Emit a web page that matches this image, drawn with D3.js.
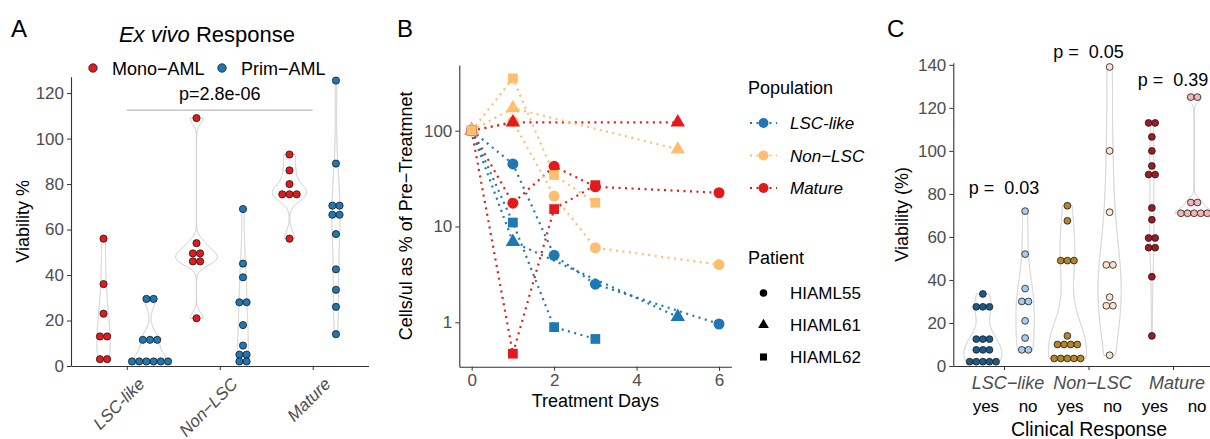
<!DOCTYPE html>
<html>
<head>
<meta charset="utf-8">
<script src="https://cdn.jsdelivr.net/npm/d3@7"></script>
<style>
body { margin: 0; background: #fff; }
svg { display: block; font-family: "Liberation Sans", Arial, Helvetica, sans-serif; }
</style>
</head>
<body>
<div id="chart"></div>
<script>
// ---------- data: panel A (ex vivo viability %) ----------
var aCategories = ["LSC-like", "Non−LSC", "Mature"];
var aSubtypes = ["Mono−AML", "Prim−AML"];
var aColors = ["#e31a1c", "#1f78b4"];
var aMono = [
	[56, 36, 23, 13, 13, 3, 3],
	[109, 54, 49.5, 49.5, 46, 46, 21],
	[93, 86, 80, 75.5, 75.5, 75.5, 56]
];
var aPrim = [
	[29.5, 29.5, 11.5, 11.5, 11.5, 2, 2, 2, 2, 2, 2],
	[69, 45, 39, 28, 28, 18, 9, 5, 5, 2, 2],
	[125.5, 89, 70.5, 70.5, 66.5, 66.5, 58, 42.5, 33.5, 26, 14]
];
var aTicks = [0, 20, 40, 60, 80, 100, 120];
var aPvalue = "p=2.8e-06";

// ---------- data: panel B (cells/ul as % of pre-treatment, [day, value]) ----------
var bPopulations = ["LSC-like", "Non−LSC", "Mature"];
var bColors = ["#1f78b4", "#fdbf6f", "#e31a1c"];
var bPatients = ["HIAML55", "HIAML61", "HIAML62"];
var lscHiaml55 = [[0, 100], [1, 45], [2, 5.0], [3, 2.5], [6, 0.96]];
var nonHiaml55 = [[0, 100], [1, 125], [2, 20.8], [3, 6.0], [6, 4.0]];
var matHiaml55 = [[0, 100], [1, 17.5], [2, 42.5], [3, 26], [6, 22.5]];
var lscHiaml61 = [[0, 100], [1, 6.9], [5, 1.14]];
var nonHiaml61 = [[0, 100], [1, 172], [5, 64]];
var matHiaml61 = [[0, 100], [1, 122], [5, 122]];
var lscHiaml62 = [[0, 100], [1, 11], [2, 0.89], [3, 0.67]];
var nonHiaml62 = [[0, 100], [1, 352], [2, 34.5], [3, 17.7]];
var matHiaml62 = [[0, 100], [1, 0.47], [2, 15.2], [3, 27]];
var bXTicks = [0, 2, 4, 6];
var bYTicks = [1, 10, 100];

// ---------- data: panel C (viability % by clinical response) ----------
var cCategories = ["LSC−like", "Non−LSC", "Mature"];
var cResponses = ["yes", "no"];
var cColorsYes = ["#1a5b8a", "#b5852c", "#9e1b21"];
var cColorsNo = ["#a4cdee", "#fde2cc", "#f6b4b6"];
var cLscYes = [33.5, 27.5, 27.5, 27.5, 12.5, 12.5, 12.5, 7.5, 7.5, 7.5, 2, 2, 2, 2, 2];
var cLscNo = [72, 52, 36, 30, 30, 21, 13, 7.5, 7.5];
var cNonYes = [74.5, 67.5, 49, 49, 49, 14, 10, 10, 10, 10, 3.5, 3.5, 3.5, 3.5, 3.5];
var cNonNo = [139, 100, 71.5, 47, 47, 32, 28, 28, 5];
var cMatYes = [113, 113, 106.5, 100, 93, 89, 89, 73.5, 68, 59.5, 59.5, 55, 55, 41.5, 14];
var cMatNo = [125, 125, 76, 76, 71, 71, 71, 71, 71];
var cPvalues = ["0.03", "0.05", "0.39"];
var cPLabelAt = [80, 143, 130];
var cTicks = [0, 20, 40, 60, 80, 100, 120, 140];

var FONT = '"Liberation Sans", Arial, Helvetica, sans-serif';
var svg = d3.select("#chart").append("svg").attr("width", 1210).attr("height", 439);
svg.append("rect").attr("width", 1210).attr("height", 439).attr("fill", "#fff");

// gaussian kde with R's nrd0 bandwidth, trimmed to the data range
function kde(values, n) {
	var s = values.slice().sort(d3.ascending);
	var sd = d3.deviation(s);
	var iqr = (d3.quantile(s, 0.75) - d3.quantile(s, 0.25)) / 1.34;
	var lo = Math.min(sd, iqr);
	if (!(lo > 0)) lo = sd || Math.abs(s[0]) || 1;
	var bw = 0.9 * lo * Math.pow(s.length, -0.2);
	var mn = s[0], mx = s[s.length - 1];
	return d3.range(n).map(function(i) {
		var y = mn + (mx - mn) * i / (n - 1);
		var d = d3.sum(s, function(v) { return Math.exp(-0.5 * Math.pow((y - v) / bw, 2)); });
		return {y: y, d: d / (s.length * bw * Math.sqrt(2 * Math.PI))};
	});
}

// dots of equal value are put side by side, centred on cx
function dotStack(values, cx, spacing) {
	var out = [];
	d3.groups(values, function(v) { return v; }).forEach(function(g) {
		g[1].forEach(function(v, i) { out.push({v: v, x: cx + (i - (g[1].length - 1) / 2) * spacing}); });
	});
	return out;
}

// groups sharing the same "set" are scaled against each other (area scaling)
function violinDots(g, groups, y, maxHalf, r, spacing) {
	groups.forEach(function(gr) { gr.dens = kde(gr.vals, 512); gr.dm = d3.max(gr.dens, function(p) { return p.d; }); });
	var setMax = d3.rollup(groups, function(v) { return d3.max(v, function(gr) { return gr.dm; }); }, function(gr) { return gr.set; });
	groups.forEach(function(gr) {
		var dmax = setMax.get(gr.set);
		var area = d3.area()
			.x0(function(p) { return gr.cx - p.d / dmax * maxHalf; })
			.x1(function(p) { return gr.cx + p.d / dmax * maxHalf; })
			.y(function(p) { return y(p.y); });
		g.append("path").attr("d", area(gr.dens))
			.attr("fill", "#fff").attr("stroke", "#c9c9c9").attr("stroke-width", 1);
	});
	groups.forEach(function(gr) {
		g.selectAll(null).data(dotStack(gr.vals, gr.cx, spacing)).enter().append("circle")
			.attr("cx", function(d) { return d.x; })
			.attr("cy", function(d) { return y(d.v); })
			.attr("r", r)
			.attr("fill", gr.color)
			.attr("stroke", "#1a1a1a")
			.attr("stroke-width", 0.8);
	});
}

function styleAxis(g) {
	g.attr("font-family", FONT).attr("font-size", 17);
	g.select(".domain").attr("stroke", "#333").attr("stroke-width", 1.1);
	g.selectAll(".tick line").attr("stroke", "#333").attr("stroke-width", 1);
	g.selectAll(".tick text").attr("fill", "#4d4d4d");
}

function panelLetter(txt, x) {
	svg.append("text").attr("x", x).attr("y", 37).attr("font-size", 24).attr("fill", "#000").text(txt);
}

// ================= Panel A =================
var gA = svg.append("g");
var aX = d3.scaleLinear().domain([0.4, 3.6]).range([71, 368.5]);
var aY = d3.scaleLinear().domain([0, 127.2]).range([366, 76.7]);
var aGroups = [];
aCategories.forEach(function(c, i) {
	aGroups.push({vals: aMono[i], cx: aX(i + 1 - 0.25), color: aColors[0], set: 0});
	aGroups.push({vals: aPrim[i], cx: aX(i + 1 + 0.25), color: aColors[1], set: 0});
});
violinDots(gA, aGroups, aY, 0.9 * (aX(2) - aX(1)) / 4, 3.6, 7.2);

gA.append("g").attr("transform", "translate(" + aX.range()[0] + ",0)")
	.call(d3.axisLeft(aY).tickValues(aTicks).tickSize(4).tickSizeOuter(0).tickPadding(3))
	.call(styleAxis);
gA.append("g").attr("transform", "translate(0," + aY(0) + ")")
	.call(d3.axisBottom(aX).tickValues([1, 2, 3]).tickFormat("").tickSize(4).tickSizeOuter(0))
	.call(styleAxis);
aCategories.forEach(function(c, i) {
	gA.append("text")
		.attr("transform", "translate(" + (aX(i + 1) + 19) + "," + (aY(0) + 19) + ") rotate(-45)")
		.attr("text-anchor", "end").attr("font-size", 17).attr("font-style", "italic")
		.attr("fill", "#4d4d4d").text(c);
});
gA.append("text").attr("transform", "translate(29," + ((aY.range()[0] + aY.range()[1]) / 2) + ") rotate(-90)")
	.attr("text-anchor", "middle").attr("font-size", 18).text("Viability %");

// p-value bar
gA.append("line").attr("x1", aX(1)).attr("x2", aX(3)).attr("y1", aY(112.5)).attr("y2", aY(112.5))
	.attr("stroke", "#aaa").attr("stroke-width", 1);
gA.append("text").attr("x", aX(2)).attr("y", aY(112.5) - 10).attr("text-anchor", "middle")
	.attr("font-size", 18).text(aPvalue);

// title + legend
var tA = gA.append("text").attr("x", 207).attr("y", 42).attr("text-anchor", "middle").attr("font-size", 22);
tA.append("tspan").attr("font-style", "italic").text("Ex vivo");
tA.append("tspan").text(" Response");
var legA = [{x: 93, t: 112}, {x: 222, t: 241}];
aSubtypes.forEach(function(s, i) {
	gA.append("circle").attr("cx", legA[i].x).attr("cy", 68).attr("r", 4.2)
		.attr("fill", aColors[i]).attr("stroke", "#1a1a1a").attr("stroke-width", 0.8);
	gA.append("text").attr("x", legA[i].t).attr("y", 74.5).attr("font-size", 18).text(s);
});
panelLetter("A", 11);

// ================= Panel B =================
var gB = svg.append("g");
var bX = d3.scaleLinear().domain([-0.3, 6.3]).range([459.3, 731.4]);
var bY = d3.scaleLog().domain([0.344, 485]).range([366.7, 65]);
var bSeries = [
	{pop: 0, pat: 0, pts: lscHiaml55}, {pop: 2, pat: 0, pts: matHiaml55}, {pop: 1, pat: 0, pts: nonHiaml55},
	{pop: 0, pat: 1, pts: lscHiaml61}, {pop: 2, pat: 1, pts: matHiaml61}, {pop: 1, pat: 1, pts: nonHiaml61},
	{pop: 0, pat: 2, pts: lscHiaml62}, {pop: 2, pat: 2, pts: matHiaml62}, {pop: 1, pat: 2, pts: nonHiaml62}
];
var bShapes = [d3.symbolCircle, d3.symbolTriangle, d3.symbolSquare];
var bSizes = [95, 90, 95];
var bLine = d3.line().x(function(d) { return bX(d[0]); }).y(function(d) { return bY(d[1]); });

bSeries.forEach(function(s) {
	gB.append("path").attr("d", bLine(s.pts)).attr("fill", "none")
		.attr("stroke", bColors[s.pop]).attr("stroke-width", 2.2).attr("stroke-dasharray", "2,4.5");
});
bSeries.forEach(function(s) {
	gB.selectAll(null).data(s.pts).enter().append("path")
		.attr("transform", function(d) { return "translate(" + bX(d[0]) + "," + bY(d[1]) + ")"; })
		.attr("d", d3.symbol().type(bShapes[s.pat]).size(bSizes[s.pat]))
		.attr("fill", bColors[s.pop]);
});

gB.append("g").attr("transform", "translate(" + bX.range()[0] + ",0)")
	.call(d3.axisLeft(bY).tickValues(bYTicks).tickFormat(d3.format("d")).tickSize(4).tickSizeOuter(0).tickPadding(3))
	.call(styleAxis);
gB.append("g").attr("transform", "translate(0," + bY.range()[0] + ")")
	.call(d3.axisBottom(bX).tickValues(bXTicks).tickFormat(d3.format("d")).tickSize(4).tickSizeOuter(0).tickPadding(3))
	.call(styleAxis);
gB.append("text").attr("transform", "translate(412," + ((bY.range()[0] + bY.range()[1]) / 2) + ") rotate(-90)")
	.attr("text-anchor", "middle").attr("font-size", 18).text("Cells/ul as % of Pre−Treatmnet");
gB.append("text").attr("x", (bX(0) + bX(6)) / 2).attr("y", 407).attr("text-anchor", "middle")
	.attr("font-size", 18).text("Treatment Days");

// legends
gB.append("text").attr("x", 748).attr("y", 94).attr("font-size", 18).text("Population");
bPopulations.forEach(function(p, i) {
	var yy = 123 + i * 32.5;
	gB.append("line").attr("x1", 750).attr("x2", 777).attr("y1", yy).attr("y2", yy)
		.attr("stroke", bColors[i]).attr("stroke-width", 2.2).attr("stroke-dasharray", "2,4.5");
	gB.append("circle").attr("cx", 763.5).attr("cy", yy).attr("r", 5).attr("fill", bColors[i]);
	gB.append("text").attr("x", 790).attr("y", yy + 6).attr("font-size", 17).attr("font-style", "italic").text(p);
});
gB.append("text").attr("x", 748).attr("y", 264).attr("font-size", 18).text("Patient");
bPatients.forEach(function(p, i) {
	var yy = 293 + i * 32;
	gB.append("path").attr("transform", "translate(763.5," + yy + ")")
		.attr("d", d3.symbol().type(bShapes[i]).size([45, 50, 50][i])).attr("fill", "#000");
	gB.append("text").attr("x", 790).attr("y", yy + 6).attr("font-size", 17).text(p);
});
panelLetter("B", 397);

// ================= Panel C =================
var gC = svg.append("g");
var cX = d3.scaleLinear().domain([0.4, 3.6]).range([953.3, 1223.7]);
var cY = d3.scaleLinear().domain([0, 141]).range([366, 62.7]);
var cYes = [cLscYes, cNonYes, cMatYes];
var cNo = [cLscNo, cNonNo, cMatNo];
var cGroups = [];
cCategories.forEach(function(c, i) {
	cGroups.push({vals: cYes[i], cx: cX(i + 1 - 0.25), color: cColorsYes[i], set: i});
	cGroups.push({vals: cNo[i], cx: cX(i + 1 + 0.25), color: cColorsNo[i], set: i});
});
violinDots(gC, cGroups, cY, 0.9 * (cX(2) - cX(1)) / 4, 3.4, 6.6);

gC.append("g").attr("transform", "translate(" + cX.range()[0] + ",0)")
	.call(d3.axisLeft(cY).tickValues(cTicks).tickSize(4).tickSizeOuter(0).tickPadding(3))
	.call(styleAxis);
gC.append("g").attr("transform", "translate(0," + cY(0) + ")")
	.call(d3.axisBottom(cX).tickValues([1, 2, 3]).tickFormat("").tickSize(4).tickSizeOuter(0))
	.call(styleAxis);
cCategories.forEach(function(c, i) {
	gC.append("text").attr("x", cX(i + 1) + 4).attr("y", cY(0) + 22.5).attr("text-anchor", "middle")
		.attr("font-size", 18).attr("font-style", "italic").attr("fill", "#4d4d4d").text(c);
	cResponses.forEach(function(r, j) {
		gC.append("text").attr("x", cX(i + 1 + (j ? 0.25 : -0.25)) + 3).attr("y", cY(0) + 46)
			.attr("text-anchor", "middle").attr("font-size", 17).text(r);
	});
	gC.append("text").attr("x", cX(i + 1)).attr("y", cY(cPLabelAt[i])).attr("text-anchor", "middle")
		.attr("font-size", 18).style("white-space", "pre").text("p =  " + cPvalues[i]);
});
gC.append("text").attr("x", 1089).attr("y", 436).attr("text-anchor", "middle")
	.attr("font-size", 19.5).text("Clinical Response");
gC.append("text").attr("transform", "translate(908," + ((cY.range()[0] + cY.range()[1]) / 2) + ") rotate(-90)")
	.attr("text-anchor", "middle").attr("font-size", 18).text("Viability (%)");
panelLetter("C", 887);
</script>
</body>
</html>
